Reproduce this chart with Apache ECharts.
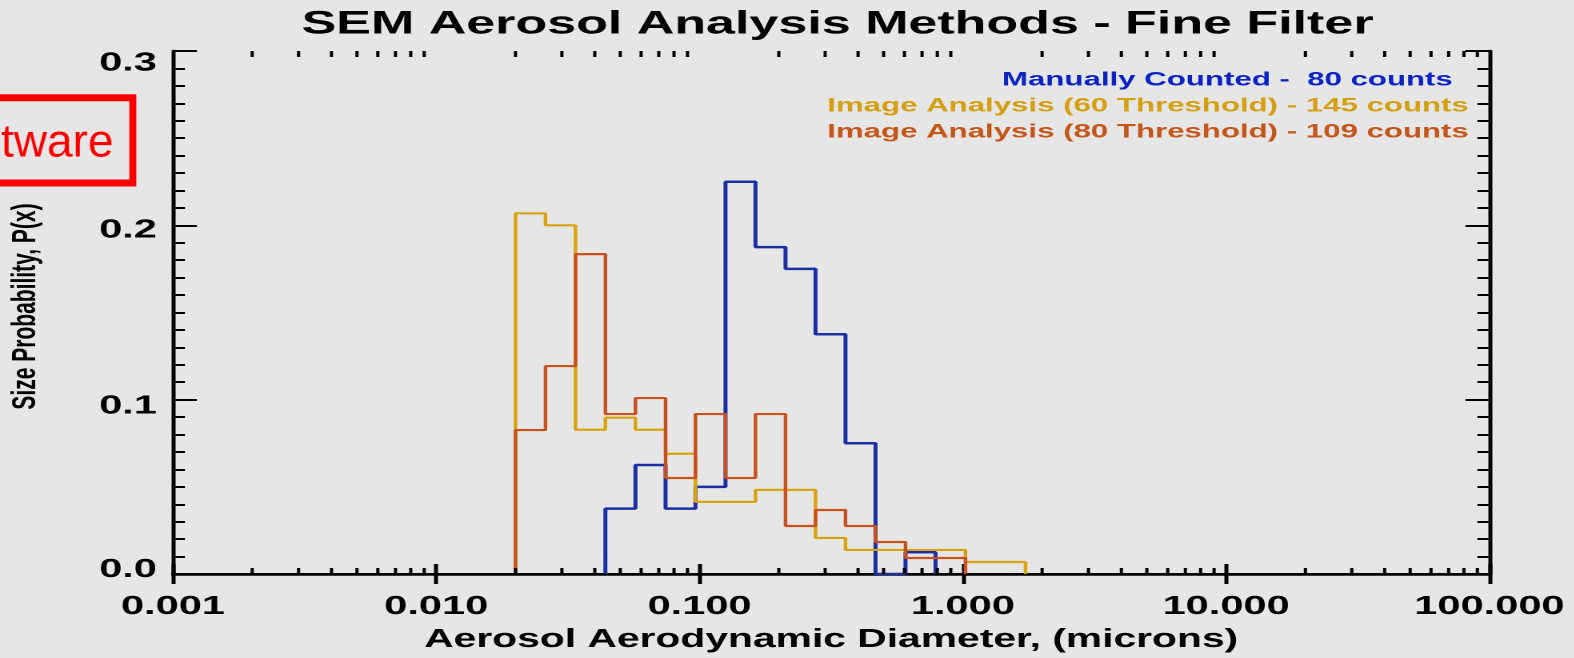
<!DOCTYPE html>
<html>
<head>
<meta charset="utf-8">
<script src="https://cdn.jsdelivr.net/npm/echarts@6/dist/echarts.min.js"></script>
<style>
  html, body { margin: 0; padding: 0; background: #e6e6e6; overflow: hidden; }
  /* The plot is laid out in a narrower frame and widened horizontally, as the IDL output was. */
  #chart { width: 983.75px; height: 658px; transform: scaleX(1.6); transform-origin: 0 0; }
</style>
</head>
<body>
<div id="chart"></div>
<script>
// Histogram bin edges (microns), logarithmic bins with ratio ~1.3
const binEdges = [0.0200, 0.0260, 0.0338, 0.0439, 0.0571, 0.0743, 0.0965, 0.1255, 0.1631,
                  0.2121, 0.2757, 0.3584, 0.4660, 0.6058, 0.7875, 1.0237, 1.3308, 1.7301];

// Particle counts per bin for each analysis method
const manualCounts   = [0, 0, 0, 3, 5, 3, 4, 18, 15, 14, 11, 6, 0, 1, 0, 0, 0];
const thresh60Counts = [30, 29, 12, 13, 12, 10, 6, 6, 7, 7, 3, 2, 2, 2, 2, 1, 1];
const thresh80Counts = [9, 13, 20, 10, 11, 6, 10, 6, 10, 3, 4, 3, 2, 1, 1, 0, 0];

const seriesNames = ['Manually Counted', 'Image Analysis (60 Threshold)', 'Image Analysis (80 Threshold)'];
const seriesTotals = [80, 145, 109];

const xTickLabels = ['0.001', '0.010', '0.100', '1.000', '10.000', '100.000'];
const yTickLabels = ['0.0', '0.1', '0.2', '0.3'];

const SX = 1.6;               // horizontal widening of the frame
const FONT = 'Liberation Sans, Arial, Helvetica, sans-serif';
const lineColors = ['#1b2fa3', '#d9a20f', '#c8501c'];
const textColors = ['#0b22c4', '#d4a012', '#c4561a'];

// Convert per-bin counts to a stepped outline of size probability
function stepOutline(counts, total) {
  const first = counts.findIndex(c => c > 0);
  let last = counts.length - 1;
  while (last > first && counts[last] === 0) last--;
  const pts = [[binEdges[first], 0]];
  for (let i = first; i <= last; i++) pts.push([binEdges[i], counts[i] / total]);
  pts.push([binEdges[last + 1], counts[last] / total]);
  pts.push([binEdges[last + 1], 0]);
  return pts;
}

// Minor log ticks at 2..9 within each decade
const minorTickValues = [];
for (let e = -3; e <= 1; e++) {
  for (let m = 2; m <= 9; m++) minorTickValues.push([+(m * Math.pow(10, e)).toPrecision(2), 0]);
}

const allCounts = [manualCounts, thresh60Counts, thresh80Counts];

const histSeries = allCounts.map((counts, i) => ({
  name: seriesNames[i],
  type: 'line',
  step: 'end',
  showSymbol: false,
  silent: true,
  data: stepOutline(counts, seriesTotals[i]),
  lineStyle: { color: lineColors[i], width: i === 0 ? 2.5 : 2.2 },
  itemStyle: { color: lineColors[i] },
  z: 3 + i
}));

const minorTickSeries = {
  type: 'custom',
  silent: true,
  clip: false,
  data: minorTickValues,
  z: 10,
  renderItem(params, api) {
    const v = api.value(0);
    const b = api.coord([v, 0]);
    const t = api.coord([v, 0.3]);
    return {
      type: 'group',
      children: [
        { type: 'line', shape: { x1: b[0], y1: b[1], x2: b[0], y2: b[1] - 6 }, style: { stroke: '#000', lineWidth: 2 } },
        { type: 'line', shape: { x1: t[0], y1: t[1], x2: t[0], y2: t[1] + 6 }, style: { stroke: '#000', lineWidth: 2 } }
      ]
    };
  }
};

const tickFont = { fontFamily: FONT, fontWeight: 'bold', fontSize: 26, color: '#000' };

function xLabel(v) {
  return xTickLabels[Math.round(Math.log10(v)) + 3];
}
function yLabel(v) {
  const k = Math.round(v * 10);
  return '{t' + k + '|' + yTickLabels[k] + '}';
}

const legendTexts = seriesNames.map((n, i) => ({
  type: 'text',
  x: i === 0 ? 908 : 918,
  y: 80 + i * 26,
  style: {
    text: n + ' - ' + String(seriesTotals[i]).padStart(3, ' ') + ' counts',
    fill: textColors[i],
    font: 'bold 19.5px ' + FONT,
    align: 'right',
    verticalAlign: 'middle'
  },
  z: 20
}));

// Y-axis title, rotated, centred to the left of the tick labels
const yTitle = {
  type: 'text',
  x: 16.25,
  y: 306.5,
  rotation: Math.PI / 2,
  style: {
    text: 'Size Probability, P(x)',
    fill: '#000',
    font: 'bold 21px ' + FONT,
    align: 'center',
    verticalAlign: 'middle'
  },
  z: 20
};

const chart = echarts.init(document.getElementById('chart'), null, { renderer: 'canvas', devicePixelRatio: 2 });

chart.setOption({
  animation: false,
  backgroundColor: '#e6e6e6',
  title: {
    text: 'SEM Aerosol Analysis Methods - Fine Filter',
    left: 188.5,
    top: 8,
    padding: 0,
    textStyle: { fontFamily: FONT, fontWeight: 'bold', fontSize: 32.5, color: '#000' }
  },
  grid: { left: 108.1, right: 53.1, top: 51, bottom: 83.5 },
  xAxis: [
    {
      type: 'log',
      logBase: 10,
      min: 0.001,
      max: 100,
      splitNumber: 5,
      name: 'Aerosol Aerodynamic Diameter, (microns)',
      nameLocation: 'middle',
      nameGap: 53,
      nameTextStyle: { fontFamily: FONT, fontWeight: 'bold', fontSize: 25.5, color: '#000' },
      axisLine: { show: true, lineStyle: { color: '#000', width: 2.5 } },
      axisTick: { show: true, inside: true, length: 10, lineStyle: { color: '#000', width: 2.5 } },
      minorTick: { show: false },
      splitLine: { show: false },
      axisLabel: Object.assign({ margin: 20, formatter: xLabel }, tickFont)
    },
    {
      type: 'log',
      logBase: 10,
      min: 0.001,
      max: 100,
      splitNumber: 5,
      position: 'top',
      axisLine: { show: true, lineStyle: { color: '#000', width: 2 } },
      axisTick: { show: true, inside: true, length: 10, lineStyle: { color: '#000', width: 2.5 } },
      minorTick: { show: false },
      splitLine: { show: false },
      axisLabel: { show: false }
    }
  ],
  yAxis: [
    {
      type: 'value',
      min: 0,
      max: 0.3,
      interval: 0.1,
      axisLine: { show: true, lineStyle: { color: '#000', width: 2.5 } },
      axisTick: { show: true, inside: true, length: 15, lineStyle: { color: '#000', width: 2 } },
      minorTick: { show: true, splitNumber: 10, length: 7.5, lineStyle: { color: '#000', width: 2 } },
      splitLine: { show: false },
      axisLabel: Object.assign({
        margin: 10,
        formatter: yLabel,
        rich: {
          t0: Object.assign({ padding: [0, 0, 8, 0] }, tickFont),
          t1: Object.assign({ padding: [13, 0, 0, 0] }, tickFont),
          t2: Object.assign({ padding: [10, 0, 0, 0] }, tickFont),
          t3: Object.assign({ padding: [25, 0, 0, 0] }, tickFont)
        }
      }, tickFont)
    },
    {
      type: 'value',
      min: 0,
      max: 0.3,
      interval: 0.1,
      position: 'right',
      axisLine: { show: true, lineStyle: { color: '#000', width: 2.5 } },
      axisTick: { show: true, inside: true, length: 15, lineStyle: { color: '#000', width: 2 } },
      minorTick: { show: true, splitNumber: 10, length: 7.5, lineStyle: { color: '#000', width: 2 } },
      splitLine: { show: false },
      axisLabel: { show: false }
    }
  ],
  series: histSeries.concat([minorTickSeries]),
  graphic: legendTexts.concat([
    yTitle,
    {
      // Annotation box at the left edge, drawn at natural width
      type: 'group',
      x: 0,
      y: 0,
      scaleX: 1 / SX,
      z: 30,
      children: [
        {
          type: 'rect',
          shape: { x: -20, y: 97.7, width: 152.8, height: 85.3 },
          style: { fill: 'none', stroke: '#ff0000', lineWidth: 7 }
        },
        {
          type: 'text',
          x: 1,
          y: 144,
          style: { text: 'tware', fill: '#ff0000', font: '46px ' + FONT, align: 'left', verticalAlign: 'middle' }
        }
      ]
    }
  ])
});
</script>
</body>
</html>
